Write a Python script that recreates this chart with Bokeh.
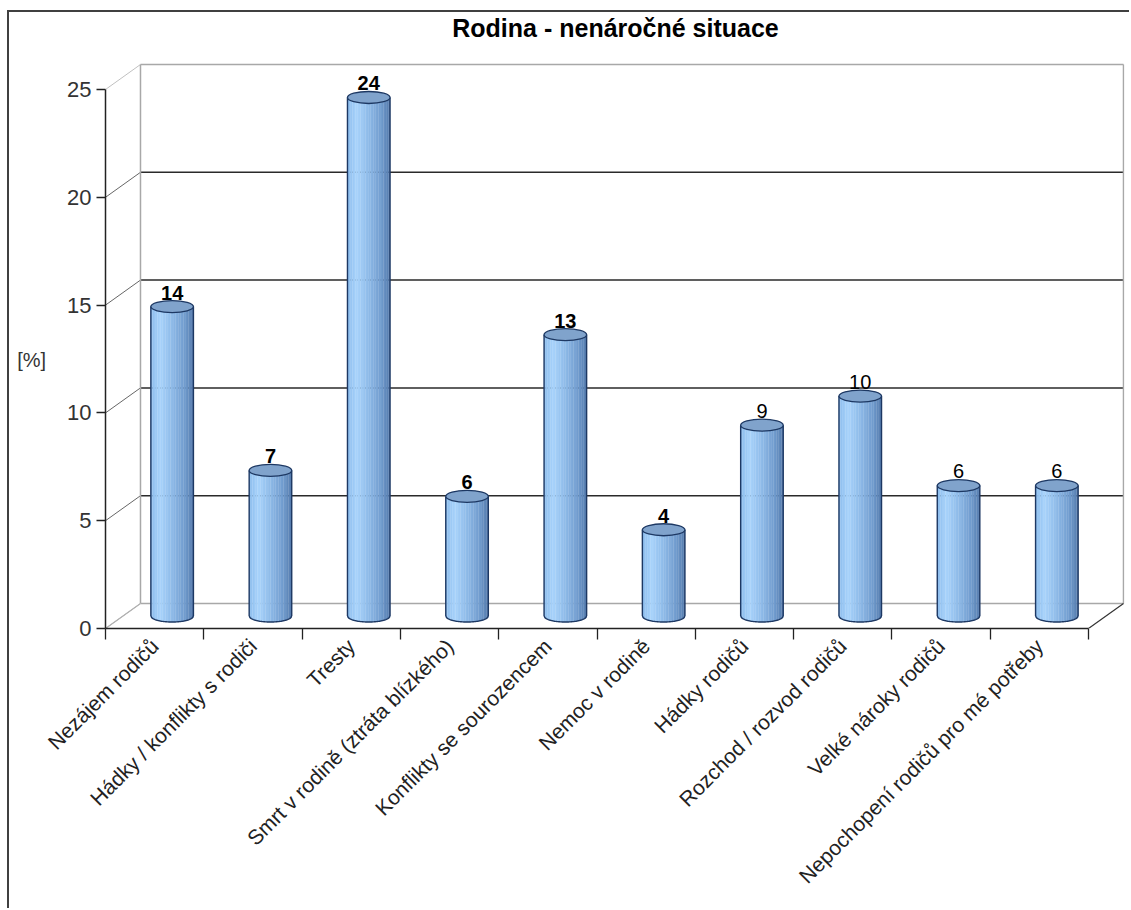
import math
import numpy as np
from bokeh.plotting import figure
from bokeh.models import Range1d, FixedTicker, ColumnDataSource, Label
from bokeh.core.properties import value
from bokeh.embed import file_html
from bokeh.resources import INLINE

# ---------------- data ----------------
title_text = "Rodina - nenáročné situace"
categories = [
    "Nezájem rodičů",
    "Hádky / konflikty s rodiči",
    "Tresty",
    "Smrt v rodině (ztráta blízkého)",
    "Konflikty se sourozencem",
    "Nemoc v rodině",
    "Hádky rodičů",
    "Rozchod / rozvod rodičů",
    "Velké nároky rodičů",
    "Nepochopení rodičů pro mé potřeby",
]
values = [14.35, 6.75, 24.05, 5.55, 13.05, 4.0, 8.85, 10.2, 6.05, 6.05]
value_labels = ["14", "7", "24", "6", "13", "4", "9", "10", "6", "6"]
y_ticks = [0, 5, 10, 15, 20, 25]
y_axis_label = "[%]"

# ---------------- styling / geometry ----------------
FONT = "Liberation Sans"
n = len(categories)
DX, DY = 0.356, 1.16          # depth offset of the back wall (data units)
W, H = 0.433, 0.557           # cylinder width and cap ellipse height
label_styles = ["bold"] * 6 + ["normal"] * 4

# page offset of the canvas (outer chart border drawn with CSS)
OX, OY, BW = 7, 10, 2
PX_X, PX_Y = 98.3, 21.56      # pixels per category / per percent
FRAME_L, FRAME_B, FRAME_R = 105, 628, 1124

stops = [(0.0, (140, 188, 236)), (0.22, (168, 211, 251)), (0.5, (142, 186, 232)),
         (0.8, (112, 155, 205)), (1.0, (84, 122, 172))]

def grad(t):
    for (t0, c0), (t1, c1) in zip(stops[:-1], stops[1:]):
        if t0 <= t <= t1:
            f = (t - t0) / (t1 - t0)
            r, g, b = (int(round(a + (bb - a) * f)) for a, bb in zip(c0, c1))
            return "#%02x%02x%02x" % (r, g, b)
    return "#%02x%02x%02x" % stops[-1][1]

sx0, sy0 = OX + BW, OY + BW
x_end = (FRAME_R - FRAME_L) / PX_X
y_end = (FRAME_B - sy0) / PX_Y
p = figure(width=1131 - sx0, height=910 - sy0, output_backend="svg", toolbar_location=None,
           x_range=Range1d(0, x_end), y_range=Range1d(0, y_end),
           min_border_left=FRAME_L - sx0, min_border_right=1131 - FRAME_R, min_border_top=0,
           min_border_bottom=910 - FRAME_B,
           background_fill_color="white", border_fill_color="white")
p.margin = (OY, 0, 0, OX)
p.styles = {"border-left": f"{BW}px solid #404040", "border-top": f"{BW}px solid #404040"}
p.outline_line_color = None
p.grid.visible = False
p.title_location = None

# chart title (inside the top of the frame)
p.add_layout(Label(x=(615 - FRAME_L) / PX_X, y=(FRAME_B - 27) / PX_Y, text=title_text,
                   text_font=FONT, text_font_size="25px", text_font_style="bold",
                   text_color="#000000", text_align="center", text_baseline="alphabetic"))

# ---------------- 3D walls ----------------
dark, light = "#2a2a2a", "#a8a8a8"
gcol = [light if (v == y_ticks[0] or v == y_ticks[-1]) else dark for v in y_ticks]
p.segment(x0=[DX] * len(y_ticks), x1=[n + DX] * len(y_ticks),
          y0=[v + DY for v in y_ticks], y1=[v + DY for v in y_ticks],
          line_color=gcol, line_width=1.5)
p.segment(x0=[0] * len(y_ticks), x1=[DX] * len(y_ticks),
          y0=y_ticks, y1=[v + DY for v in y_ticks],
          line_color=["#c0c0c0" if c == light else "#666666" for c in gcol], line_width=1)
p.segment(x0=[DX, n + DX], x1=[DX, n + DX], y0=[DY, DY], y1=[y_ticks[-1] + DY] * 2,
          line_color=light, line_width=1.5)
p.segment(x0=[0, n], x1=[DX, n + DX], y0=[0, 0], y1=[DY, DY],
          line_color=["#b0b0b0", "#333333"], line_width=1.2)

# ---------------- cylinders ----------------
xc = np.arange(n) + 0.5 + DX / 2
base = DY / 2
N = 26
sx, sb, st, sc = [], [], [], []
for i, v in enumerate(values):
    for j in range(N):
        t = (j + 0.5) / N
        u = 2 * t - 1
        sx.append(xc[i] - W / 2 + t * W)
        sb.append(base - H / 2 * math.sqrt(max(0.0, 1 - u * u)))
        st.append(base + v)
        sc.append(grad(t))
p.vbar(x=sx, width=W / N * 1.15, bottom=sb, top=st, fill_color=sc, line_color=None)

us = np.linspace(-1, 1, 41)
arc_xs = [list(c + us * W / 2) for c in xc]
arc_ys = [list(base - H / 2 * np.sqrt(np.clip(1 - us * us, 0, None))) for _ in xc]
p.multi_line(xs=arc_xs, ys=arc_ys, line_color="#1d3863", line_width=1.4)
p.segment(x0=list(xc - W / 2) + list(xc + W / 2), x1=list(xc - W / 2) + list(xc + W / 2),
          y0=[base] * (2 * n), y1=[base + v for v in values] * 2,
          line_color="#1d3863", line_width=1.4)
tops = [base + v for v in values]
p.ellipse(x=xc, y=tops, width=W, height=H, fill_color="#80a3cc",
          line_color="#1d3863", line_width=1.3)

lsrc = ColumnDataSource(dict(x=xc, y=[t + H / 2 + 0.05 for t in tops], text=value_labels,
                             style=label_styles))
p.text(x="x", y="y", text="text", source=lsrc, text_align="center", text_baseline="bottom",
       text_font=value(FONT), text_font_size="20px", text_font_style="style", text_color="#000000")

# ---------------- axes ----------------
ya = p.yaxis[0]
ya.ticker = FixedTicker(ticks=y_ticks, minor_ticks=[])
ya.bounds = (0, y_ticks[-1])
ya.axis_line_color = "#222222"
ya.axis_line_width = 1.5
ya.major_tick_out = 9
ya.major_tick_in = 0
ya.major_tick_line_color = "#222222"
ya.major_tick_line_width = 1.3
ya.minor_tick_out = 0
ya.major_label_text_font = FONT
ya.major_label_text_font_size = "22px"
ya.major_label_text_color = "#333333"
ya.major_label_standoff = 5

use_axis_label = "axis_label_orientation" in ya.properties()
if use_axis_label:
    # leading blank lines push the label down to the middle of the 0-25 scale
    ya.axis_label = "\n\n\n" + y_axis_label
    ya.axis_label_orientation = "horizontal"
    ya.axis_label_text_font = FONT
    ya.axis_label_text_font_size = "20px"
    ya.axis_label_text_font_style = "normal"
    ya.axis_label_text_color = "#333333"
    ya.axis_label_standoff = 18
else:
    p.add_layout(Label(x=-0.84, y=12.57, text=y_axis_label, text_font=FONT, text_font_size="20px",
                       text_color="#333333", text_align="left", text_baseline="middle"))

xa = p.xaxis[0]
centers = [i + 0.5 for i in range(n)]
xa.ticker = FixedTicker(ticks=centers, minor_ticks=list(range(n + 1)))
xa.bounds = (0, n)
xa.axis_line_color = "#222222"
xa.axis_line_width = 1.5
xa.major_tick_out = 0
xa.major_tick_in = 0
xa.minor_tick_out = 11
xa.minor_tick_in = 0
xa.minor_tick_line_color = "#222222"
xa.minor_tick_line_width = 1.3
xa.major_label_orientation = math.pi / 4
xa.major_label_overrides = {c: lab for c, lab in zip(centers, categories)}
xa.major_label_text_font = FONT
xa.major_label_text_font_size = "21px"
xa.major_label_text_color = "#222222"
xa.major_label_standoff = 3

open("out.html", "w").write(file_html(p, INLINE))
